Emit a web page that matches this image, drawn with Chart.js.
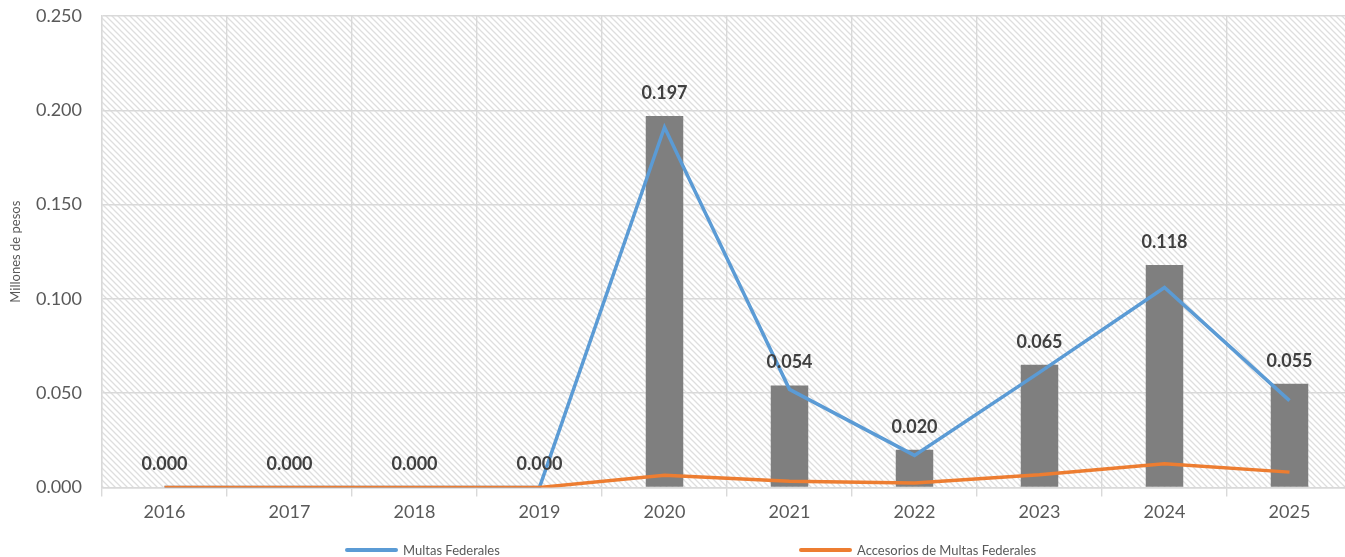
<!DOCTYPE html>
<html>
<head>
<meta charset="utf-8">
<script src="https://cdn.jsdelivr.net/npm/chart.js@4/dist/chart.umd.min.js"></script>
<style>
  html, body { margin: 0; padding: 0; background: #fff; overflow: hidden; }
  #wrap { position: relative; width: 1360px; height: 557px; }
  #legend { position: absolute; left: 0; top: 542px; width: 1345px; height: 15px;
            font-family: Lato, sans-serif; font-size: 13px; color: #595959; }
  .item { position: absolute; top: 0; display: flex; align-items: center; white-space: nowrap; }
  .swatch { width: 53px; height: 4px; border-radius: 2px; margin-right: 5px; }
</style>
</head>
<body>
<div id="wrap">
  <canvas id="chart" width="1360" height="557"></canvas>
  <div id="legend"></div>
</div>
<script>
// datos
const years = ["2016", "2017", "2018", "2019", "2020", "2021", "2022", "2023", "2024", "2025"];
const totalValues = [0, 0, 0, 0, 0.197, 0.054, 0.020, 0.065, 0.118, 0.055];
const multasValues = [0, 0, 0, 0, 0.191, 0.052, 0.017, 0.061, 0.106, 0.046];
const accesoriosValues = [0, 0, 0, 0, 0.0064, 0.0032, 0.0023, 0.0067, 0.0126, 0.0081];
const seriesNames = ["Multas Federales", "Accesorios de Multas Federales"];
const yTitle = "Millones de pesos";

const BLUE = "#5b9bd5";
const ORANGE = "#ed7d31";
const GRAY_BAR = "#7f7f7f";
const GRID = "#d9d9d9";
const TEXT = "#595959";

// patrón rayado del fondo
function makeHatch() {
  const c = document.createElement("canvas");
  c.width = 6; c.height = 6;
  const g = c.getContext("2d");
  g.strokeStyle = "#dedede";
  g.lineWidth = 1.3;
  g.beginPath();
  g.moveTo(-1, -1); g.lineTo(7, 7);
  g.moveTo(-4, 2); g.lineTo(1, 7);
  g.moveTo(5, -1); g.lineTo(8, 2);
  g.stroke();
  return g.createPattern(c, "repeat");
}

const hatchPlugin = {
  id: "hatch",
  beforeDraw(chart) {
    const { ctx, chartArea: a } = chart;
    ctx.save();
    ctx.fillStyle = makeHatch();
    ctx.fillRect(a.left, a.top, a.right - a.left, a.bottom - a.top);
    ctx.restore();
  }
};

// etiquetas encima de las barras
const labelsPlugin = {
  id: "barLabels",
  afterDatasetsDraw(chart) {
    const ctx = chart.ctx;
    const meta = chart.getDatasetMeta(0);
    ctx.save();
    ctx.font = "bold 18px Lato, sans-serif";
    ctx.fillStyle = "#404040";
    ctx.textAlign = "center";
    ctx.textBaseline = "middle";
    meta.data.forEach((bar, i) => {
      ctx.fillText(totalValues[i].toFixed(3), bar.x, bar.y - 23);
    });
    ctx.restore();
  }
};

new Chart(document.getElementById("chart"), {
  type: "bar",
  data: {
    labels: years,
    datasets: [
      {
        type: "bar",
        data: totalValues,
        backgroundColor: GRAY_BAR,
        barPercentage: 0.3,
        categoryPercentage: 1,
        order: 2
      },
      {
        type: "line",
        label: seriesNames[0],
        data: multasValues,
        borderColor: BLUE,
        borderWidth: 3.5,
        pointRadius: 0,
        tension: 0,
        order: 1
      },
      {
        type: "line",
        label: seriesNames[1],
        data: accesoriosValues,
        borderColor: ORANGE,
        borderWidth: 3.5,
        pointRadius: 0,
        tension: 0,
        order: 0
      }
    ]
  },
  options: {
    responsive: false,
    animation: false,
    layout: { padding: { top: 0, right: 8, bottom: 29, left: 8 } },
    plugins: {
      legend: { display: false },
      tooltip: { enabled: false }
    },
    scales: {
      x: {
        grid: { color: GRID, lineWidth: 1.4, offset: true, tickLength: 9 },
        border: { color: GRID, width: 1.4 },
        ticks: { color: TEXT, font: { family: "Lato", size: 18 }, padding: 5 }
      },
      y: {
        min: 0,
        max: 0.25,
        afterFit: scale => {
          scale.width = 94;
          scale.paddingTop = 16;
          scale.paddingBottom = 11;
        },
        grid: { color: GRID, lineWidth: 1.4, drawTicks: false },
        border: { color: GRID, width: 1.4 },
        ticks: {
          stepSize: 0.05,
          color: TEXT,
          font: { family: "Lato", size: 18 },
          padding: 20,
          callback: v => Number(v).toFixed(3)
        },
        title: {
          display: true,
          text: yTitle,
          color: TEXT,
          font: { family: "Lato", size: 13 },
          padding: { top: 0, bottom: 10 }
        }
      }
    }
  },
  plugins: [hatchPlugin, labelsPlugin]
});

// leyenda (solo las dos líneas)
const legend = document.getElementById("legend");
[[seriesNames[0], BLUE, 345], [seriesNames[1], ORANGE, 799]].forEach(([name, color, left]) => {
  const item = document.createElement("div");
  item.className = "item";
  item.style.left = left + "px";
  item.innerHTML = `<span class="swatch" style="background:${color}"></span><span>${name}</span>`;
  legend.appendChild(item);
});
</script>
</body>
</html>
